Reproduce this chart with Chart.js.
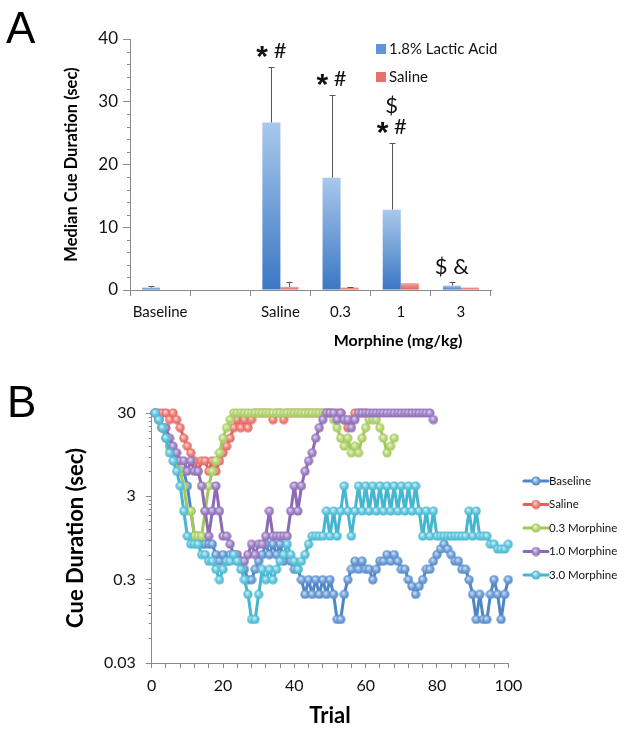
<!DOCTYPE html>
<html><head><meta charset="utf-8">
<script src="https://cdn.jsdelivr.net/npm/chart.js@4/dist/chart.umd.min.js"></script>
<style>
html,body{margin:0;padding:0;background:#fff;width:625px;height:731px;overflow:hidden;}
canvas{position:absolute;left:0;}
#ca{top:0;}
#cb{top:340px;}
</style></head><body>
<canvas id="ca" width="625" height="360"></canvas>
<canvas id="cb" width="625" height="391"></canvas>
<script>
// ---------- Panel A data ----------
const groupLabels = ['Baseline', '', 'Saline', '0.3', '1', '3'];
const lacticMedian = [0.4, null, 26.7, 17.9, 12.8, 0.7];
const lacticErr    = [0.3, null, 8.9, 13.2, 10.6, 0.5];
const salineMedian = [null, null, 0.5, 0.4, 1.1, 0.4];
const salineErr    = [null, null, 0.7, 0.1, 0, 0];
const sigMarks = [[], [], ['* #'], ['* #'], ['* #', '$'], ['$ &']];
const yTicksA = [0, 10, 20, 30, 40];

// ---------- Panel B data ----------
const seriesNames = ['Baseline', 'Saline', '0.3 Morphine', '1.0 Morphine', '3.0 Morphine'];
const baselineCue = [30,25,20,15,12,10,8,6,6,4,
 2,1,1,0.8,0.8,0.8,0.8,0.6,0.5,0.6,
 0.5,0.6,0.6,0.5,0.5,0.4,0.3,0.3,0.4,0.5,
 0.6,0.8,0.6,0.8,0.6,0.8,0.5,0.6,0.5,0.4,
 0.4,0.3,0.2,0.3,0.2,0.3,0.2,0.3,0.2,0.3,
 0.2,0.1,0.1,0.2,0.3,0.4,0.5,0.4,0.5,0.4,
 0.4,0.3,0.4,0.5,0.5,0.6,0.5,0.6,0.5,0.4,
 0.4,0.3,0.25,0.2,0.25,0.3,0.4,0.4,0.5,0.6,
 0.7,0.8,0.7,0.6,0.5,0.5,0.4,0.4,0.3,0.2,
 0.1,0.2,0.1,0.1,0.2,0.3,0.2,0.1,0.2,0.3];
const salineCue = [30,30,30,30,25,30,25,20,15,12,
 10,8,6,8,8,6,8,6,8,10,
 12,15,20,25,20,25,20,25,30,30,
 30,30,30,25,30,30,25,30,30,30,
 30,30,30,30,30,30,30,30,30,30,
 30,30,30,25,20,25,30,30,30,30];
const morph03Cue = [30,25,20,15,12,10,8,6,4,2,
 2,1,1,1,2,4,6,8,10,15,
 20,25,30,30,30,30,30,30,30,30,
 30,30,30,30,30,30,30,30,30,30,
 30,30,30,30,30,30,30,30,30,30,
 25,20,15,12,15,10,12,10,15,20,
 25,25,25,20,15,10,12,15];
const morph10Cue = [30,25,20,20,15,12,10,8,8,6,
 8,6,6,4,2,1,2,4,2,1,
 1,0.8,0.6,0.6,0.5,0.5,0.6,0.8,0.6,0.8,
 0.8,1,2,1,1,1,1,1,2,4,
 2,4,6,8,10,15,20,25,30,30,
 30,25,30,25,25,20,25,30,30,30,
 30,30,30,30,30,30,30,30,30,30,
 30,30,30,30,30,30,30,30,25];
const morph30Cue = [30,25,20,15,10,8,6,4,2,1,
 0.8,0.8,0.8,0.6,0.6,0.5,0.5,0.4,0.3,0.4,
 0.5,0.5,0.6,0.5,0.4,0.3,0.2,0.1,0.1,0.2,
 0.4,0.3,0.4,0.3,0.4,0.5,0.6,0.8,0.6,0.5,
 0.4,0.5,0.6,0.8,1,1,1,1,2,1,
 2,1,2,4,2,1,2,4,2,4,
 2,4,2,4,2,4,2,4,2,4,
 2,4,2,4,2,1,2,1,2,1,
 1,1,1,1,1,1,1,1,2,1,
 2,1,1,1,0.8,0.8,0.7,0.7,0.7,0.8];
const yTicksB = [0.03, 0.3, 3, 30];

// ---------- styles ----------
const FONT = 'Lato, "Open Sans", sans-serif';
Chart.defaults.font.family = FONT;
const AXIS = '#8a8a8a';
const lineCols = ['#4f86c6', '#e0615c', '#a2c75a', '#8d6ab6', '#45b6d0'];
const fillCols = ['#6f9fd8', '#ee807b', '#b5d672', '#a085c6', '#62c6de'];
const hiCols   = ['#cfe0f4', '#fbd3d0', '#e6f2cf', '#ddd0ec', '#d0eef6'];

function sphere(i) {
  const cv = document.createElement('canvas');
  cv.width = 10; cv.height = 10;
  const c = cv.getContext('2d');
  const g = c.createRadialGradient(4, 3.6, 0.4, 5, 5, 4.8);
  g.addColorStop(0, hiCols[i]);
  g.addColorStop(0.55, fillCols[i]);
  g.addColorStop(1, lineCols[i]);
  c.fillStyle = g;
  c.beginPath(); c.arc(5, 5, 4.6, 0, Math.PI * 2); c.fill();
  return cv;
}
const sprites = lineCols.map((_, i) => sphere(i));

function barGrad(ctx, cols) {
  const chart = ctx.chart, ca = chart.chartArea;
  if (!ca || ctx.type !== 'data') return cols[1];
  const v = ctx.parsed ? ctx.parsed.y : ctx.raw;
  if (v == null) return cols[1];
  const ys = chart.scales.y;
  const top = ys.getPixelForValue(v), bot = ys.getPixelForValue(0);
  if (!(bot - top > 0.5)) return cols[1];
  const g = chart.ctx.createLinearGradient(0, top, 0, bot);
  g.addColorStop(0, cols[0]);
  g.addColorStop(1, cols[1]);
  return g;
}

function drawMark(c, text, cx, cy) {
  // draws a significance string; the asterisk is drawn larger and centred like the original
  c.save();
  c.textBaseline = 'middle'; c.textAlign = 'left'; c.fillStyle = '#111';
  const parts = text.split('').map(ch => ({ ch, font: ch === '*' ? 'bold 30px "Liberation Sans", Arial, sans-serif' : '22px ' + FONT, dy: ch === '*' ? 7 : 0 }));
  let w = 0;
  parts.forEach(p => { c.font = p.font; p.w = c.measureText(p.ch).width; w += p.w; });
  let x = cx - w / 2;
  parts.forEach(p => { c.font = p.font; c.fillText(p.ch, x, cy + p.dy); x += p.w; });
  c.restore();
}

const panelAPlugin = {
  id: 'panelA',
  afterDatasetsDraw(chart) {
    const c = chart.ctx, ys = chart.scales.y;
    [[0, lacticMedian, lacticErr], [1, salineMedian, salineErr]].forEach(([di, vals, errs]) => {
      const meta = chart.getDatasetMeta(di);
      vals.forEach((v, i) => {
        if (v == null || !errs[i]) return;
        const x = Math.round(meta.data[i].x) + 0.5;
        const y0 = ys.getPixelForValue(v), y1 = Math.round(ys.getPixelForValue(v + errs[i])) + 0.5;
        c.save();
        c.strokeStyle = '#555'; c.lineWidth = 1;
        c.beginPath();
        c.moveTo(x, y0); c.lineTo(x, y1);
        c.moveTo(x - 3, y1); c.lineTo(x + 3, y1);
        c.stroke();
        c.restore();
      });
    });
    const metaL = chart.getDatasetMeta(0);
    sigMarks.forEach((marks, i) => {
      if (!marks.length) return;
      const top = (lacticMedian[i] || 0) + (lacticErr[i] || 0);
      const x = metaL.data[i].x;
      let y = ys.getPixelForValue(top) - 16;
      marks.forEach(m => { drawMark(c, m, x, y); y -= 21; });
    });
  },
  afterDraw(chart) {
    const c = chart.ctx, ys = chart.scales.y, ca = chart.chartArea;
    c.save();
    c.strokeStyle = AXIS; c.lineWidth = 1;
    c.beginPath();
    for (let v = 2; v < 40; v += 2) {
      if (v % 10 === 0) continue;
      const y = Math.round(ys.getPixelForValue(v)) + 0.5;
      c.moveTo(ca.left - 3, y); c.lineTo(ca.left, y);
    }
    c.stroke();
    const items = [['1.8% Lactic Acid', '#5f95d8'], ['Saline', '#e6716d']];
    items.forEach((it, i) => {
      const y = 49 + i * 28;
      c.fillStyle = it[1];
      c.fillRect(376, y - 5, 10, 10);
      c.fillStyle = '#111';
      c.font = '15px ' + FONT;
      c.textAlign = 'left'; c.textBaseline = 'middle';
      c.fillText(it[0], 389, y);
    });
    c.font = 'bold 16px ' + FONT;
    c.fillStyle = '#000';
    c.textAlign = 'center'; c.textBaseline = 'middle';
    c.fillText('Morphine (mg/kg)', 398, 341);
    c.font = '44px "Liberation Sans", Arial, sans-serif';
    c.textAlign = 'left'; c.textBaseline = 'alphabetic';
    c.fillText('A', 6, 43);
    c.restore();
  }
};

new Chart(document.getElementById('ca'), {
  type: 'bar',
  data: {
    labels: groupLabels,
    datasets: [
      { label: '1.8% Lactic Acid', data: lacticMedian, backgroundColor: ctx => barGrad(ctx, ['#a9c8ec', '#3a77c4']),
        borderWidth: 0, categoryPercentage: 0.6, barPercentage: 1 },
      { label: 'Saline', data: salineMedian, backgroundColor: ctx => barGrad(ctx, ['#f6a8a4', '#e05a55']),
        borderWidth: 0, categoryPercentage: 0.6, barPercentage: 1 }
    ]
  },
  options: {
    responsive: false, animation: false, devicePixelRatio: 1,
    layout: { padding: { left: 0, top: 39, right: 134, bottom: 0 } },
    plugins: { legend: { display: false }, tooltip: { enabled: false } },
    scales: {
      x: {
        grid: { display: true, drawOnChartArea: false, drawTicks: true, tickLength: 6, color: AXIS, offset: true },
        border: { color: AXIS },
        ticks: { font: { size: 15 }, color: '#111', padding: 7, maxRotation: 0 },
        afterFit: s => { s.height = 70; }
      },
      y: {
        min: 0, max: 40,
        afterBuildTicks: ax => { ax.ticks = yTicksA.map(v => ({ value: v })); },
        grid: { drawOnChartArea: false, tickLength: 7, color: AXIS },
        border: { color: AXIS },
        ticks: { font: { size: 17 }, color: '#111', padding: 5 },
        title: { display: true, text: 'Median Cue Duration (sec)', font: { size: 16.5, weight: 'bold' }, color: '#000', padding: { top: 62, bottom: 0 } },
        afterFit: s => { s.width = 130; }
      }
    }
  },
  plugins: [panelAPlugin]
});

// ---------- Panel B ----------
const seriesData = [baselineCue, salineCue, morph03Cue, morph10Cue, morph30Cue];

const panelBPlugin = {
  id: 'panelB',
  afterDraw(chart) {
    const c = chart.ctx, ys = chart.scales.y, ca = chart.chartArea;
    c.save();
    c.strokeStyle = AXIS; c.lineWidth = 1;
    c.beginPath();
    for (let d = 0; d < 3; d++) {
      const base = yTicksB[d];
      for (let k = 2; k <= 9; k++) {
        const y = Math.round(ys.getPixelForValue(base * k)) + 0.5;
        c.moveTo(ca.left - 3, y); c.lineTo(ca.left, y);
      }
    }
    c.stroke();
    chart.data.datasets.forEach((ds, i) => {
      const y = 141 + i * 23.5;
      c.strokeStyle = lineCols[i]; c.lineWidth = 3; c.lineCap = 'round';
      c.beginPath(); c.moveTo(524, y); c.lineTo(548, y); c.stroke();
      c.drawImage(sprites[i], 531, y - 5, 10, 10);
      c.fillStyle = '#111';
      c.font = '11.5px ' + FONT;
      c.textAlign = 'left'; c.textBaseline = 'middle';
      c.fillText(ds.label, 549, y);
    });
    c.fillStyle = '#000';
    c.font = '44px "Liberation Sans", Arial, sans-serif';
    c.textAlign = 'left'; c.textBaseline = 'alphabetic';
    c.fillText('B', 7, 77);
    c.restore();
  }
};

new Chart(document.getElementById('cb'), {
  type: 'line',
  data: {
    datasets: seriesData.map((s, i) => ({
      label: seriesNames[i],
      data: s.map((v, j) => ({ x: j + 1, y: v })),
      borderColor: lineCols[i],
      backgroundColor: fillCols[i],
      pointStyle: sprites[i],
      pointRadius: 5,
      borderWidth: 3,
      borderJoinStyle: 'round',
      borderCapStyle: 'round',
      tension: 0,
      clip: false,
      order: 10 - i
    }))
  },
  options: {
    responsive: false, animation: false, devicePixelRatio: 1,
    layout: { padding: { left: 0, top: 73, right: 116.7, bottom: 0 } },
    plugins: { legend: { display: false }, tooltip: { enabled: false } },
    scales: {
      x: {
        type: 'linear', min: 0, max: 100,
        ticks: { stepSize: 4, autoSkip: false, maxRotation: 0, callback: v => (v % 20 === 0 ? String(v) : ''), font: { size: 16 }, color: '#111', padding: 8 },
        grid: { drawOnChartArea: false, tickLength: 5, color: AXIS },
        border: { color: AXIS },
        title: { display: true, text: 'Trial', font: { size: 22, weight: 'bold' }, color: '#000', padding: { top: 0, bottom: 2 } },
        afterFit: s => { s.height = 68; }
      },
      y: {
        type: 'logarithmic', min: 0.03, max: 30,
        afterBuildTicks: ax => { ax.ticks = yTicksB.map(v => ({ value: v })); },
        ticks: { callback: v => String(v), font: { size: 16 }, color: '#111', padding: 10 },
        grid: { drawOnChartArea: false, tickLength: 6, color: AXIS },
        border: { color: AXIS },
        title: { display: true, text: 'Cue Duration (sec)', font: { size: 22, weight: 'bold' }, color: '#000', padding: { top: 63, bottom: 0 } },
        afterFit: s => { s.width = 151.7; }
      }
    }
  },
  plugins: [panelBPlugin]
});
</script>
</body></html>
